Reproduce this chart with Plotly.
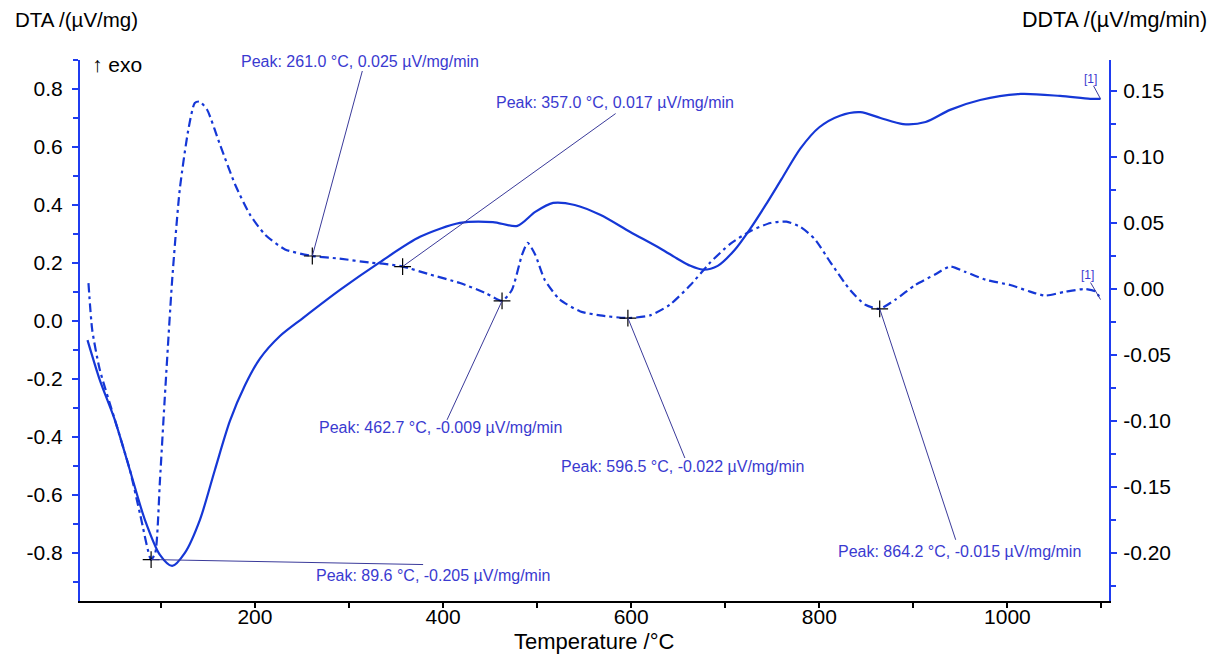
import plotly.graph_objects as go

# ---------------- data ----------------
dta_T = [22, 35, 51, 67, 83, 99, 112, 125.5, 141.5, 157.4, 173.4, 189.4, 205.3, 226.6, 251, 290.4, 333,
         375.5, 418, 453, 479, 498, 517, 540, 567, 599, 631, 650, 663, 676, 692, 710, 727, 743, 760,
         780, 800, 822, 843.6, 865, 889, 913, 939, 971, 1014, 1056, 1088, 1099]
dta_V = [-0.066, -0.203, -0.341, -0.514, -0.686, -0.807, -0.845, -0.80, -0.686, -0.514, -0.345, -0.222,
         -0.130, -0.052, 0.010, 0.107, 0.203, 0.290, 0.338, 0.341, 0.328, 0.376, 0.407, 0.400, 0.366,
         0.307, 0.250, 0.213, 0.190, 0.177, 0.190, 0.245, 0.320, 0.400, 0.490, 0.595, 0.668, 0.708,
         0.720, 0.700, 0.679, 0.686, 0.728, 0.762, 0.783, 0.776, 0.766, 0.766]

ddta_T = [23, 27, 35, 51, 67, 78, 89.6, 94, 99, 104, 112, 120, 129, 136, 141, 149, 163, 179, 195, 211,
          232, 261, 290, 322, 338, 357, 386, 418, 445, 462.7, 473, 484, 490, 498, 508, 524, 546, 567,
          596.5, 620, 641, 663, 684, 705, 727, 748, 765, 780, 795, 812, 833, 849, 864.2, 881, 902, 923,
          939, 955, 977, 1003, 1024, 1040, 1062, 1083, 1094, 1099]
ddta_V = [0.0045, -0.031, -0.061, -0.099, -0.137, -0.171, -0.205, -0.2, -0.145, -0.084, 0.007, 0.075,
          0.12, 0.141, 0.142, 0.136, 0.109, 0.079, 0.056, 0.041, 0.030, 0.025, 0.023, 0.020, 0.019,
          0.017, 0.011, 0.0045, -0.003, -0.009, -0.001, 0.026, 0.035, 0.026, 0.007, -0.008, -0.017,
          -0.020, -0.022, -0.020, -0.012, 0.003, 0.020, 0.034, 0.044, 0.050, 0.051, 0.047, 0.038, 0.020,
          -0.001, -0.012, -0.015, -0.008, 0.003, 0.011, 0.017, 0.013, 0.007, 0.003, -0.002, -0.005,
          -0.002, 0.0, -0.002, -0.008]

peak_T = [89.6, 261.0, 357.0, 462.7, 596.5, 864.2]
peak_V = [-0.205, 0.025, 0.017, -0.009, -0.022, -0.015]
# label offsets (pixels) relative to the peak marker: leader-line end and text centre
line_dx = [272, 50, 213, -55, 57, 76]
line_dy = [-5, 185, 153, -119, -140, -231]
text_dx = [282, 48, 212, -62, 55, 80]
text_dy = [-16, 195, 164, -127, -148, -243]

x_ticks = [200, 400, 600, 800, 1000]
y1_ticks = [-0.8, -0.6, -0.4, -0.2, 0.0, 0.2, 0.4, 0.6, 0.8]
y2_ticks = [-0.20, -0.15, -0.10, -0.05, 0.00, 0.05, 0.10, 0.15]

CURVE = "#1537d6"
AXISBLUE = "#1f3cf0"
LABEL = "#3a3ad0"
LEADER = "#3a3a9a"
FONT = "Liberation Sans, Arial, sans-serif"

fig = go.Figure()
fig.add_trace(go.Scatter(x=dta_T, y=dta_V, mode="lines",
                         line=dict(color=CURVE, width=2.2, shape="spline", smoothing=0.8),
                         yaxis="y", showlegend=False, hoverinfo="skip"))
fig.add_trace(go.Scatter(x=ddta_T, y=ddta_V, mode="lines",
                         line=dict(color=CURVE, width=2.2, dash="9px,4px,3px,4px", shape="spline", smoothing=0.6),
                         yaxis="y2", showlegend=False, hoverinfo="skip"))
fig.add_trace(go.Scatter(x=peak_T, y=peak_V, mode="markers", yaxis="y2",
                         marker=dict(symbol="cross-thin", size=12, line=dict(color="black", width=1.2)),
                         showlegend=False, hoverinfo="skip"))

shapes = []
annotations = []
for t, v, ldx, ldy, tdx, tdy in zip(peak_T, peak_V, line_dx, line_dy, text_dx, text_dy):
    shapes.append(dict(type="line", xref="x", yref="y2", xsizemode="pixel", ysizemode="pixel",
                       xanchor=t, yanchor=v, x0=0, y0=0, x1=ldx, y1=ldy,
                       line=dict(color=LEADER, width=1)))
    annotations.append(dict(text=f"Peak: {t:.1f} °C, {v:.3f} µV/mg/min", xref="x", yref="y2", x=t, y=v,
                            xshift=tdx, yshift=tdy, showarrow=False, xanchor="center", yanchor="middle",
                            font=dict(family=FONT, size=16, color=LABEL)))

# [1] labels at the curve ends: (x, y, axis, line dx, line dy, text dx, text dy)
end_labels = [(dta_T[-1], dta_V[-1], "y", -7, 13, -10, 20),
              (ddta_T[-1], ddta_V[-1], "y2", -10, 17, -13, 25)]
for t, v, yr, ldx, ldy, tdx, tdy in end_labels:
    shapes.append(dict(type="line", xref="x", yref=yr, xsizemode="pixel", ysizemode="pixel",
                       xanchor=t, yanchor=v, x0=0, y0=0, x1=ldx, y1=ldy,
                       line=dict(color=LEADER, width=1)))
    annotations.append(dict(text="[1]", xref="x", yref=yr, x=t, y=v, xshift=tdx, yshift=tdy,
                            showarrow=False, font=dict(family=FONT, size=12, color=LABEL)))

annotations += [
    dict(text="DTA /(µV/mg)", xref="paper", yref="paper", x=-0.065, y=1.074, xanchor="left", yanchor="middle",
         showarrow=False, font=dict(family=FONT, size=20.5, color="black")),
    dict(text="DDTA /(µV/mg/min)", xref="paper", yref="paper", x=1.097, y=1.074, xanchor="right",
         yanchor="middle", showarrow=False, font=dict(family=FONT, size=21.5, color="black")),
    dict(text="Temperature /°C", xref="paper", yref="paper", x=0.5, y=-0.074, xanchor="center",
         yanchor="middle", showarrow=False, font=dict(family=FONT, size=22, color="black")),
    dict(text="↑ exo", xref="paper", yref="paper", x=0.01, y=0.991, xanchor="left", yanchor="middle",
         showarrow=False, font=dict(family=FONT, size=21, color="black")),
]

fig.update_layout(
    width=1213, height=649,
    margin=dict(l=72, r=112, t=52, b=56),
    paper_bgcolor="white", plot_bgcolor="white",
    font=dict(family=FONT, size=21, color="black"),
    xaxis=dict(range=[14, 1108], showline=True, linecolor="black", linewidth=2, mirror=False,
               showgrid=False, zeroline=False, ticks="outside", ticklen=5, tickcolor="black", tickwidth=1.5,
               ticklabelstandoff=-9,
               tickvals=x_ticks, ticktext=[str(v) for v in x_ticks],
               minor=dict(dtick=100, tick0=0, ticks="outside", ticklen=5, tickcolor="black", showgrid=False),
               tickfont=dict(size=21)),
    yaxis=dict(range=[-0.966, 0.9], showline=True, linecolor=AXISBLUE, linewidth=2, showgrid=False,
               zeroline=False, ticks="outside", ticklen=6, tickcolor=AXISBLUE, tickwidth=1.5,
               ticklabelstandoff=5,
               tickvals=y1_ticks, ticktext=[f"{v:.1f}".replace("-0.0", "0.0") for v in y1_ticks],
               minor=dict(dtick=0.1, tick0=0, ticks="outside", ticklen=5, tickcolor=AXISBLUE, showgrid=False),
               tickfont=dict(size=21)),
    yaxis2=dict(range=[-0.2364, 0.1735], overlaying="y", side="right", anchor="x", showline=True,
                linecolor=AXISBLUE, linewidth=2, showgrid=False, zeroline=False, ticks="outside", ticklen=6,
                tickcolor=AXISBLUE, tickwidth=1.5, ticklabelstandoff=2,
                tickvals=y2_ticks, ticktext=[f"{v:.2f}" for v in y2_ticks],
                minor=dict(dtick=0.025, tick0=0, ticks="outside", ticklen=5, tickcolor=AXISBLUE, showgrid=False),
                tickfont=dict(size=21)),
    shapes=shapes,
    annotations=annotations,
)

fig.write_html("out.html")
